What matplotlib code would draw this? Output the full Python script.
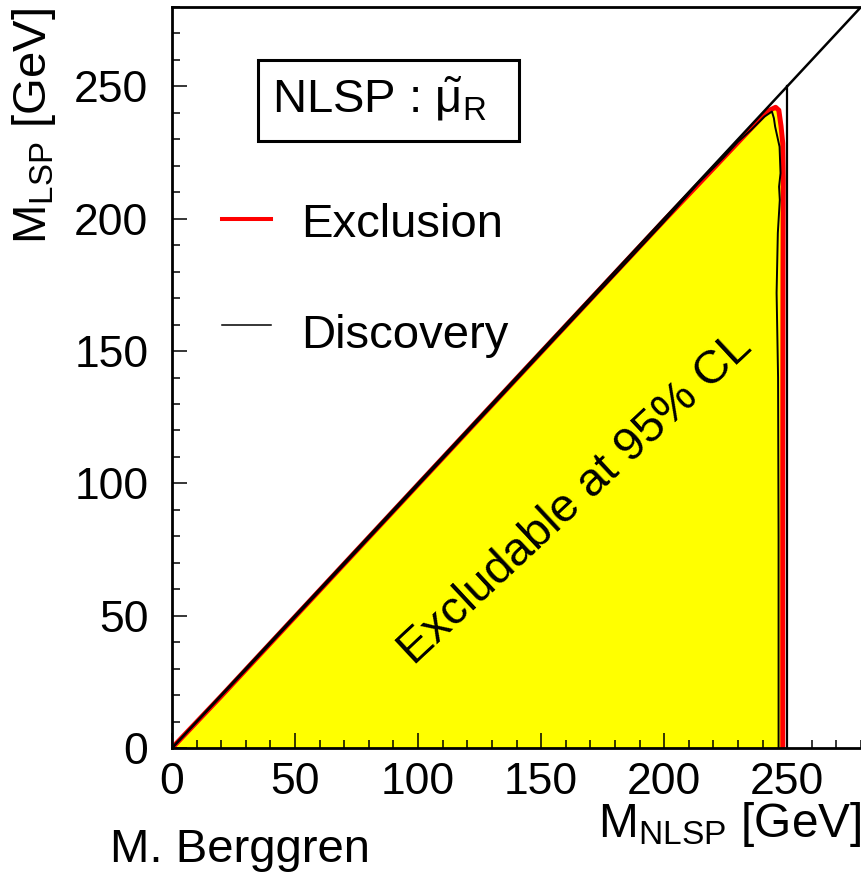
import matplotlib
matplotlib.use('Agg')
import matplotlib.pyplot as plt
from matplotlib.patches import Rectangle
from matplotlib.ticker import MultipleLocator

plt.rcParams['font.family'] = 'Liberation Sans'
plt.rcParams['mathtext.fontset'] = 'custom'
plt.rcParams['mathtext.rm'] = 'Liberation Sans'
plt.rcParams['mathtext.it'] = 'Liberation Sans:italic'
plt.rcParams['mathtext.sf'] = 'Liberation Sans'

# 95% CL exclusion contour (GeV)
excl_x = [0.0, 20.0, 50.0, 80.0, 110.0, 140.0, 170.0, 200.0, 220.0, 235.0,
          242.0, 245.3, 246.6, 247.5, 248.2, 248.4, 248.3, 248.2, 248.2]
excl_y = [0.0, 19.6, 49.6, 79.6, 109.6, 139.6, 169.5, 199.4, 219.0, 233.8,
          240.6, 242.1, 241.0, 235.0, 228.5, 215.0, 180.0, 100.0, 0.0]

# 5 sigma discovery contour (GeV)
disc_x = [0.0, 30.0, 60.0, 90.0, 120.0, 150.0, 180.0, 200.0, 213.7, 223.9,
          230.0, 235.4, 240.8, 243.8, 244.6, 245.1, 246.0, 246.9, 247.3, 246.7,
          247.0, 246.2, 245.7, 246.3, 246.5, 246.5]
disc_y = [0.0, 29.4, 59.3, 89.2, 119.2, 149.1, 178.9, 198.9, 213.2, 222.9,
          229.1, 233.6, 238.6, 240.5, 238.0, 234.8, 231.0, 227.2, 217.2, 212.1,
          207.1, 194.6, 172.0, 140.0, 80.0, 0.0]

# kinematic limits
m_max = 280.0
beam_limit = 250.0

fig = plt.figure(figsize=(8.61, 8.73), dpi=100)
ax = fig.add_axes([172 / 861, 125 / 873, 689 / 861, 741 / 873])

ax.fill(excl_x, excl_y, color='#ffff00', lw=0, zorder=1)
ax.plot(excl_x, excl_y, color='red', lw=3.6, zorder=2, solid_joinstyle='round')
ax.plot(disc_x, disc_y, color='black', lw=1.4, zorder=3)
ax.plot([0, m_max], [0, m_max], color='black', lw=1.8, zorder=4)
ax.plot([beam_limit, beam_limit], [0, beam_limit], color='black', lw=1.6, zorder=4)

ax.set_xlim(0, m_max)
ax.set_ylim(0, m_max)
ax.xaxis.set_major_locator(MultipleLocator(50))
ax.yaxis.set_major_locator(MultipleLocator(50))
ax.xaxis.set_minor_locator(MultipleLocator(10))
ax.yaxis.set_minor_locator(MultipleLocator(10))
ax.tick_params(which='both', direction='in', top=False, right=False, width=1.1)
ax.tick_params(which='major', length=10.8, labelsize=32)
ax.tick_params(which='minor', length=5.8)
ax.tick_params(axis='x', pad=10)
ax.tick_params(axis='y', pad=17)
ax.spines['right'].set_visible(False)
for s in ['left', 'bottom', 'top']:
    ax.spines[s].set_linewidth(2.0)

# legend box and entries
ax.add_patch(Rectangle((0.1248, 0.8192), 0.3788, 0.1093, transform=ax.transAxes,
                       fill=False, ec='black', lw=2.2, zorder=5))
ax.text(0.1451, 0.857, r'NLSP : $\tilde{\mathrm{\mu}}_{\mathrm{R}}$', transform=ax.transAxes,
        fontsize=34, va='baseline', ha='left', zorder=6)
ax.plot([0.0726, 0.1437], [0.7139, 0.7139], color='red', lw=2.9, transform=ax.transAxes)
ax.text(0.1872, 0.6896, 'Exclusion', transform=ax.transAxes, fontsize=34, va='baseline')
ax.plot([0.0726, 0.1437], [0.5708, 0.5708], color='black', lw=1.1, transform=ax.transAxes)
ax.text(0.1872, 0.5398, 'Discovery', transform=ax.transAxes, fontsize=34, va='baseline')

ax.text(164, 94, 'Excludable at 95% CL', fontsize=34, rotation=43,
        ha='center', va='center', rotation_mode='anchor', zorder=6)

fig.text(1.0, 1 - 837 / 873, r'M$_{\mathrm{NLSP}}$ [GeV]', fontsize=34.5, ha='right', va='baseline')
fig.text(34 / 861, 1 - 8 / 873, r'M$_{\mathrm{LSP}}$ [GeV]', fontsize=34, rotation=90,
         ha='center', va='top')
fig.text(110 / 861, 1 - 862 / 873, 'M. Berggren', fontsize=34, ha='left', va='baseline')

fig.savefig('out.png', dpi=100)
